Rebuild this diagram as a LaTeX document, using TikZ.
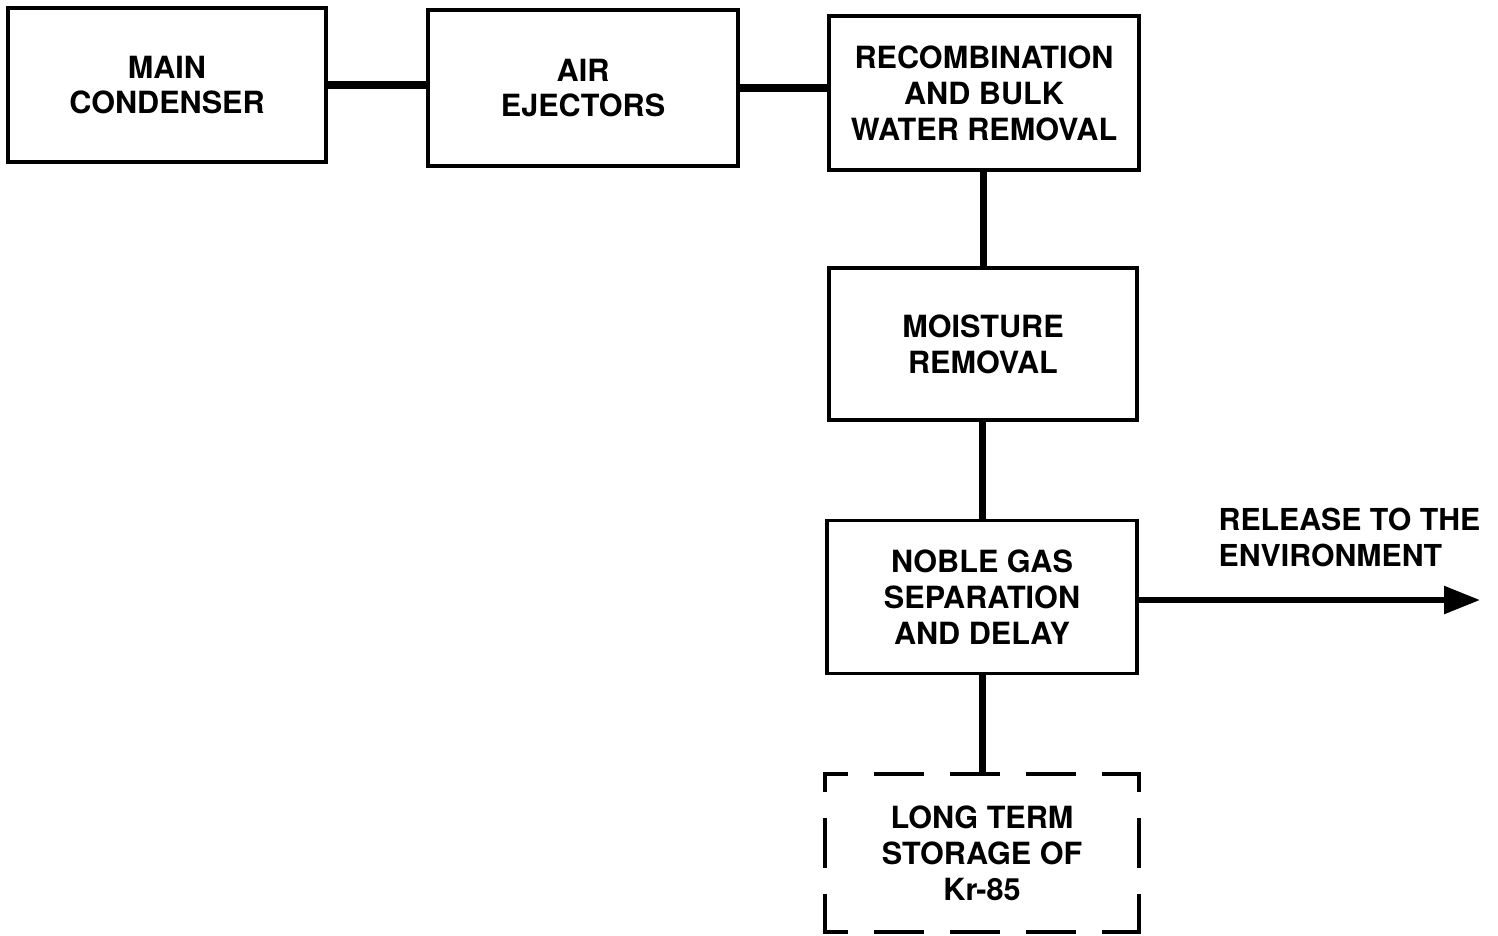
\documentclass[tikz,border=0pt]{standalone}
\usepackage{fontspec}
\setmainfont{TeX Gyre Heros}
\usetikzlibrary{arrows.meta}

\begin{document}
\begin{tikzpicture}[x=0.01cm, y=-0.01cm,
    blockbox/.style={draw, line width=1.05pt, minimum width=3.1cm, minimum height=1.54cm,
        align=center, inner sep=0pt, font=\fontsize{8.7}{10.2}\selectfont\bfseries},
    pipe/.style={line width=2pt},
    dashside/.style={line width=1.05pt, line cap=rect, dash pattern=on 0.46cm off 0.30cm}]
    \useasboundingbox (0,0) rectangle (1498,935);
    % top row
    \node[blockbox, minimum width=3.18cm] (cond) at (167,85) {MAIN\\CONDENSER};
    \node[blockbox, minimum height=1.56cm] (ejec) at (583,88) {AIR\\EJECTORS};
    \node[blockbox] (recomb) at (984,93) {RECOMBINATION\\AND BULK\\WATER REMOVAL};
    % down the right column
    \node[blockbox, minimum width=3.08cm, minimum height=1.52cm] (moist) at (983,344) {MOISTURE\\REMOVAL};
    \node[blockbox, minimum height=1.53cm] (noble) at (982,597) {NOBLE GAS\\SEPARATION\\AND DELAY};
    \node[blockbox, draw=none] (store) at (982,853) {LONG TERM\\STORAGE OF\\Kr-85};
    \draw[dashside, dash phase=0.25cm] (store.north west) -- (store.north east);
    \draw[dashside, dash phase=0.25cm] (store.south west) -- (store.south east);
    \draw[dashside, dash phase=0.30cm] (store.north west) -- (store.south west);
    \draw[dashside, dash phase=0.30cm] (store.north east) -- (store.south east);
    % connections
    \draw[pipe] (cond.east) -- (cond.east -| ejec.west);
    \draw[pipe] (ejec.east) -- (ejec.east -| recomb.west);
    \draw[pipe] (recomb.south -| moist.north) -- (moist.north);
    \draw[pipe] (moist.south -| noble.north) -- (noble.north);
    \draw[pipe] (noble.south) -- (store.north);
    \coordinate (out) at (1480,600);
    \draw[line width=1.6pt, -{Triangle[length=0.36cm, width=0.27cm]}] (noble.east |- out) -- (out);
    \node[anchor=north west, align=left, inner sep=0pt, font=\fontsize{8.6}{10.2}\selectfont\bfseries]
        (rel) at (1218,507) {RELEASE TO THE\\ENVIRONMENT};
\end{tikzpicture}
\end{document}
